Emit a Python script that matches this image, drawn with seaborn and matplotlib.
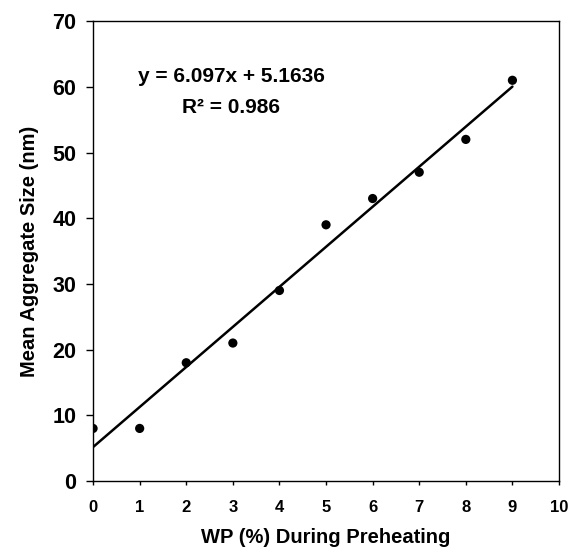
import matplotlib
matplotlib.use("Agg")
import matplotlib.pyplot as plt
import seaborn as sns
import pandas as pd

wp = [0, 1, 2, 3, 4, 5, 6, 7, 8, 9]
size_nm = [8, 8, 18, 21, 29, 39, 43, 47, 52, 61]
x_ticks = [0, 1, 2, 3, 4, 5, 6, 7, 8, 9, 10]
y_ticks = [0, 10, 20, 30, 40, 50, 60, 70]

sns.set_theme(style="ticks")
plt.rcParams['font.family'] = ['Liberation Sans', 'DejaVu Sans']
plt.rcParams['font.weight'] = 'bold'

df = pd.DataFrame({"wp": wp, "size": size_nm})

fig = plt.figure(figsize=(5.71, 5.54), dpi=100)
ax = fig.add_axes([0.163, 0.1318, 0.816, 0.830])

sns.regplot(data=df, x="wp", y="size", ax=ax, ci=None, truncate=True,
            scatter_kws=dict(s=44, color="black", edgecolor="none", alpha=1, zorder=3),
            line_kws=dict(color="black", lw=1.8))

ax.set_xlim(0, 10)
ax.set_ylim(0, 70)
ax.set_xticks(x_ticks)
ax.set_yticks(y_ticks)
ax.tick_params(axis="x", labelsize=12, direction="out", length=3, width=1, pad=11, colors="black")
ax.tick_params(axis="y", labelsize=15.5, direction="out", length=5, width=1, pad=7, colors="black")
for lab in ax.get_xticklabels() + ax.get_yticklabels():
    lab.set_fontweight("bold")
for sp in ax.spines.values():
    sp.set_visible(True)
    sp.set_linewidth(1.0)
    sp.set_color("black")

ax.set_xlabel("WP (%) During Preheating", fontsize=14.5, fontweight="bold",
              labelpad=9, color="black")
ax.set_ylabel("Mean Aggregate Size (nm)", fontsize=14.5, fontweight="bold",
              labelpad=10, color="black")

ax.text(2.97, 61.5, "y = 6.097x + 5.1636", ha="center", va="center",
        fontsize=15, fontweight="bold", color="black")
ax.text(2.97, 56.9, "R\u00b2 = 0.986", ha="center", va="center",
        fontsize=15, fontweight="bold", color="black")

fig.savefig("out.png", dpi=100, facecolor="white")
